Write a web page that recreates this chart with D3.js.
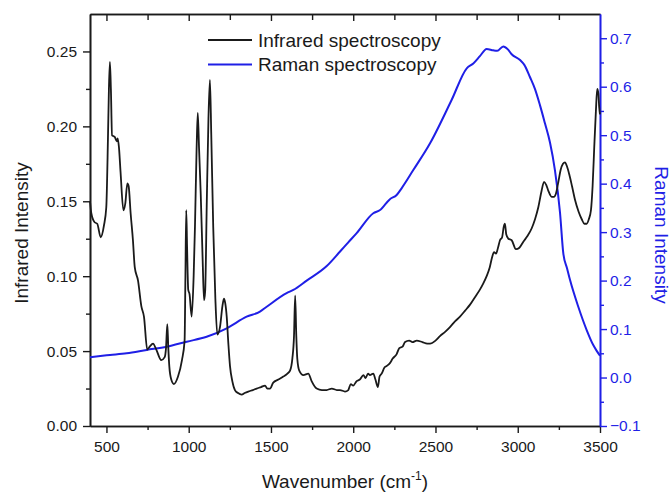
<!DOCTYPE html>
<html>
<head>
<meta charset="utf-8">
<script src="https://cdn.jsdelivr.net/npm/d3@7/dist/d3.min.js"></script>
<style>
  html, body { margin: 0; padding: 0; background: #fff; }
  svg { display: block; font-family: "Liberation Sans", Arial, Helvetica, sans-serif; }
</style>
</head>
<body>
<svg id="chart" width="672" height="492"></svg>
<script>
// Infrared absorbance spectrum (left axis)
const irWavenumber = [400,408,428,444,465,485,499,509,515,521,527,534,550,563,568,576,586,603,615,627,635,647,661,672,692,712,728,748,763,783,803,833,854,862,870,876,882,894,910,935,959,975,980,985,990,997,1005,1018,1030,1038,1048,1055,1063,1073,1085,1093,1100,1110,1120,1129,1137,1149,1162,1174,1190,1205,1214,1222,1231,1241,1251,1265,1281,1300,1322,1340,1362,1390,1413,1440,1464,1478,1494,1514,1545,1575,1600,1616,1630,1640,1647,1654,1660,1672,1697,1727,1747,1778,1810,1839,1870,1900,1920,1950,1970,1985,2000,2021,2040,2062,2075,2090,2102,2122,2135,2150,2160,2173,2190,2203,2223,2240,2264,2280,2300,2315,2340,2360,2386,2420,2450,2467,2500,2527,2560,2588,2620,2649,2680,2710,2740,2770,2790,2811,2830,2845,2856,2868,2880,2892,2905,2915,2922,2930,2943,2963,2989,3010,3034,3060,3085,3105,3125,3145,3160,3173,3186,3206,3220,3232,3247,3261,3275,3287,3300,3313,3330,3348,3370,3389,3405,3419,3432,3445,3455,3465,3475,3483,3490,3495,3500];
const irIntensity = [0.150,0.142,0.136,0.135,0.126,0.134,0.146,0.191,0.225,0.243,0.225,0.194,0.193,0.190,0.192,0.186,0.169,0.144,0.149,0.162,0.160,0.142,0.124,0.106,0.097,0.080,0.073,0.051,0.053,0.055,0.051,0.044,0.046,0.052,0.068,0.052,0.040,0.031,0.028,0.033,0.044,0.057,0.100,0.144,0.120,0.091,0.088,0.073,0.100,0.133,0.185,0.209,0.185,0.155,0.110,0.084,0.090,0.150,0.205,0.231,0.195,0.133,0.085,0.061,0.066,0.080,0.085,0.082,0.073,0.055,0.040,0.030,0.024,0.022,0.021,0.022,0.023,0.024,0.025,0.026,0.027,0.025,0.025,0.029,0.031,0.033,0.035,0.037,0.045,0.060,0.087,0.060,0.045,0.037,0.034,0.035,0.030,0.025,0.024,0.024,0.025,0.024,0.024,0.023,0.024,0.028,0.027,0.030,0.031,0.034,0.032,0.035,0.034,0.035,0.031,0.026,0.033,0.035,0.039,0.040,0.042,0.045,0.048,0.052,0.053,0.056,0.057,0.056,0.057,0.056,0.055,0.055,0.057,0.060,0.063,0.066,0.070,0.073,0.077,0.081,0.086,0.091,0.095,0.100,0.106,0.113,0.116,0.115,0.119,0.124,0.126,0.133,0.135,0.128,0.125,0.124,0.118,0.119,0.123,0.127,0.132,0.138,0.146,0.157,0.163,0.161,0.157,0.153,0.153,0.155,0.163,0.171,0.175,0.176,0.173,0.168,0.160,0.151,0.143,0.138,0.135,0.135,0.138,0.144,0.160,0.186,0.210,0.225,0.222,0.213,0.208];

// Raman scattering spectrum (right axis)
const ramanWavenumber = [400,450,522,623,745,866,988,1109,1231,1352,1433,1474,1595,1636,1717,1839,1920,1970,2021,2122,2163,2223,2264,2294,2365,2467,2598,2690,2730,2770,2811,2851,2875,2912,2940,2963,3014,3040,3074,3105,3135,3165,3196,3226,3257,3277,3300,3318,3368,3419,3459,3480,3500];
const ramanIntensity = [0.042,0.044,0.0465,0.050,0.057,0.0636,0.074,0.084,0.1015,0.1255,0.136,0.146,0.174,0.1806,0.200,0.230,0.260,0.279,0.298,0.339,0.3456,0.368,0.3766,0.3904,0.428,0.4833,0.5726,0.638,0.648,0.663,0.678,0.675,0.674,0.683,0.677,0.667,0.655,0.645,0.620,0.595,0.562,0.525,0.485,0.428,0.340,0.256,0.225,0.201,0.146,0.098,0.067,0.055,0.045];

// Axis tick values
const xMajorTicks = [500,1000,1500,2000,2500,3000,3500];
const xMinorTicks = [750,1250,1750,2250,2750,3250];
const irMajorTicks = [0.00,0.05,0.10,0.15,0.20,0.25];
const irMinorTicks = [0.025,0.075,0.125,0.175,0.225];
const ramanMajorTicks = [-0.1,0.0,0.1,0.2,0.3,0.4,0.5,0.6,0.7];
const ramanMinorTicks = [-0.05,0.05,0.15,0.25,0.35,0.45,0.55,0.65];

const seriesNames = ["Infrared spectroscopy", "Raman spectroscopy"];
const axisTitles = { x: "Wavenumber (cm", ir: "Infrared Intensity", raman: "Raman Intensity" };

const BLUE = "#1f1fe6";
const INK = "#1a1a1a";
const TICK_FONT = 15.5;

const svg = d3.select("#chart");
const plot = { left: 90, right: 600, top: 14, bottom: 426 };

const x = d3.scaleLinear().domain([400, 3500]).range([plot.left, plot.right]);
const yIR = d3.scaleLinear().domain([0, 0.275]).range([plot.bottom, plot.top]);
const yRaman = d3.scaleLinear().domain([-0.1, 0.75]).range([plot.bottom, plot.top]);

function styleAxis(g, color) {
  g.selectAll("path.domain").attr("stroke", color).attr("stroke-width", 1.6);
  g.selectAll(".tick line").attr("stroke", color).attr("stroke-width", 1.4);
  g.selectAll(".tick text").attr("fill", color).style("font-size", TICK_FONT + "px")
    .style("font-family", '"Liberation Sans", Arial, sans-serif');
}

// Bottom axis
const gxMinor = svg.append("g").attr("transform", `translate(0,${plot.bottom})`)
  .call(d3.axisBottom(x).tickValues(xMinorTicks).tickSize(4).tickSizeOuter(0).tickFormat(""));
styleAxis(gxMinor, INK);
const gx = svg.append("g").attr("transform", `translate(0,${plot.bottom})`)
  .call(d3.axisBottom(x).tickValues(xMajorTicks).tickSize(7).tickSizeOuter(0).tickPadding(8).tickFormat(d3.format("d")));
styleAxis(gx, INK);

// Top axis (ticks pointing inward, no labels)
const gtMinor = svg.append("g").attr("transform", `translate(0,${plot.top})`)
  .call(d3.axisBottom(x).tickValues(xMinorTicks).tickSize(6).tickSizeOuter(0).tickFormat(""));
styleAxis(gtMinor, INK);
const gt = svg.append("g").attr("transform", `translate(0,${plot.top})`)
  .call(d3.axisBottom(x).tickValues(xMajorTicks.filter(d => d < 3500)).tickSize(7).tickSizeOuter(0).tickFormat(""));
styleAxis(gt, INK);

// Left axis (infrared)
const gyMinor = svg.append("g").attr("transform", `translate(${plot.left},0)`)
  .call(d3.axisLeft(yIR).tickValues(irMinorTicks).tickSize(4).tickSizeOuter(0).tickFormat(""));
styleAxis(gyMinor, INK);
const gy = svg.append("g").attr("transform", `translate(${plot.left},0)`)
  .call(d3.axisLeft(yIR).tickValues(irMajorTicks).tickSize(7).tickSizeOuter(0).tickPadding(6).tickFormat(d3.format(".2f")));
styleAxis(gy, INK);

// Right axis (Raman)
const grMinor = svg.append("g").attr("transform", `translate(${plot.right},0)`)
  .call(d3.axisRight(yRaman).tickValues(ramanMinorTicks).tickSize(4).tickSizeOuter(0).tickFormat(""));
styleAxis(grMinor, BLUE);
const gr = svg.append("g").attr("transform", `translate(${plot.right},0)`)
  .call(d3.axisRight(yRaman).tickValues(ramanMajorTicks).tickSize(7).tickSizeOuter(0).tickPadding(3).tickFormat(d3.format(".1f")));
styleAxis(gr, BLUE);

// Spectra
const irPoints = irWavenumber.map((w, i) => [w, irIntensity[i]]);
const ramanPoints = ramanWavenumber.map((w, i) => [w, ramanIntensity[i]]);

svg.append("path")
  .datum(ramanPoints)
  .attr("fill", "none").attr("stroke", BLUE).attr("stroke-width", 2)
  .attr("d", d3.line().x(d => x(d[0])).y(d => yRaman(d[1])).curve(d3.curveMonotoneX));

svg.append("path")
  .datum(irPoints)
  .attr("fill", "none").attr("stroke", INK).attr("stroke-width", 1.8).attr("stroke-linejoin", "round")
  .attr("d", d3.line().x(d => x(d[0])).y(d => yIR(d[1])).curve(d3.curveMonotoneX));

// Legend
const legendColors = [INK, BLUE];
seriesNames.forEach((name, i) => {
  const ly = 40 + i * 24.5;
  svg.append("line").attr("x1", 208).attr("x2", 252).attr("y1", ly).attr("y2", ly)
    .attr("stroke", legendColors[i]).attr("stroke-width", 2);
  svg.append("text").attr("x", 258).attr("y", ly + 6.5).text(name)
    .attr("fill", INK).style("font-size", "19px");
});

// Axis titles
svg.append("text")
  .attr("transform", "translate(28,233) rotate(-90)")
  .attr("text-anchor", "middle").attr("fill", INK).style("font-size", "19px")
  .text(axisTitles.ir);

svg.append("text")
  .attr("transform", "translate(655,235) rotate(90)")
  .attr("text-anchor", "middle").attr("fill", BLUE).style("font-size", "19px")
  .text(axisTitles.raman);

const xt = svg.append("text")
  .attr("x", 345).attr("y", 488)
  .attr("text-anchor", "middle").attr("fill", INK).style("font-size", "19px");
xt.append("tspan").text(axisTitles.x);
xt.append("tspan").attr("dy", -8).style("font-size", "12px").text("-1");
xt.append("tspan").attr("dy", 8).text(")");
</script>
</body>
</html>
